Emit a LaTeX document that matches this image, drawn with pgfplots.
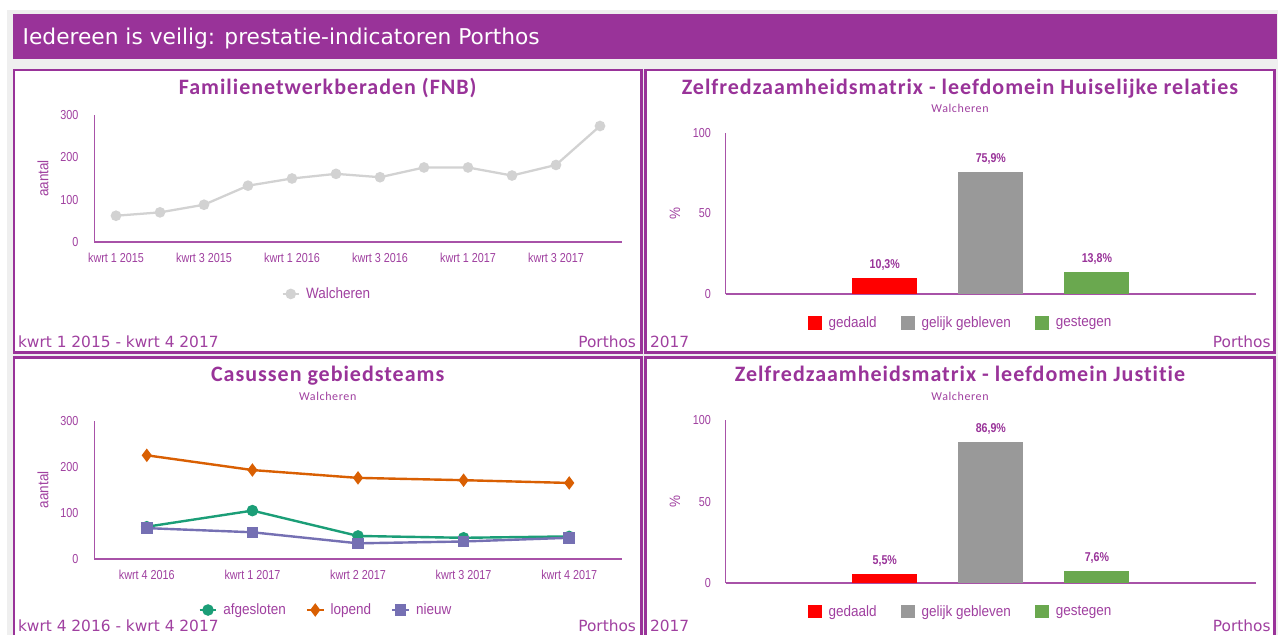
\documentclass[border=0pt]{standalone}
\usepackage{pgfplots}
\pgfplotsset{compat=1.18}
\usepackage{fontspec}
\setmainfont{Liberation Sans}
\newfontfamily\narrow[FakeStretch=0.9]{Liberation Sans}
\newfontfamily\narrowt[FakeStretch=0.83]{Liberation Sans}
\newfontfamily\ttl[LetterSpace=4.5,Ligatures={NoCommon,NoRare}]{Carlito}
\newfontfamily\sub[LetterSpace=5,Ligatures={NoCommon,NoRare}]{Carlito}
\newfontfamily\verd{DejaVu Sans}
\definecolor{pp}{RGB}{153,51,153}
\definecolor{tp}{RGB}{160,64,160}
\definecolor{bgg}{RGB}{239,239,239}
\definecolor{fnbgray}{RGB}{210,210,210}
\definecolor{cgreen}{RGB}{27,158,119}
\definecolor{corange}{RGB}{217,95,2}
\definecolor{cblue}{RGB}{117,112,179}
\definecolor{bred}{RGB}{255,0,0}
\definecolor{bgray}{RGB}{153,153,153}
\definecolor{bgreen}{RGB}{106,168,79}
\newcommand\fs[1]{\fontsize{#1}{#1}\selectfont}

\pgfplotsset{
  dash/.style={
    scale only axis,
    axis lines*=left,
    major tick length=0pt,
    clip=false,
    x axis line style={color=pp!85, line width=1.5pt},
    y axis line style={color=pp!85, line width=0.75pt},
    tick label style={font=\narrowt\fs{9.75pt}, text=tp, inner sep=0pt},
    /pgf/number format/assume math mode=true,
    xticklabel style={anchor=north, yshift=-8.25pt},
    legend style={draw=none, fill=none, font=\narrow\fs{11.25pt}, text=tp,
      legend columns=-1, anchor=center, nodes={inner sep=0pt},
      /tikz/every odd column/.append style={column sep=4.5pt},
      /tikz/every even column/.append style={column sep=15pt}},
    legend image code/.code={\draw[mark repeat=2,mark phase=2,#1] plot coordinates {(0pt,0pt) (6.2pt,0pt) (12.4pt,0pt)};},
  },
  ylab/.style={every axis y label/.style={at={(axis description cs:#1,0.5)}, rotate=90, anchor=center, font=\narrow\fs{11.25pt}, text=tp}},
}
\tikzset{txt/.style={inner sep=0pt, outer sep=0pt}}

\begin{document}
\begin{tikzpicture}[x=0.75pt,y=0.75pt]
\useasboundingbox (0,0) rectangle (1278,635);
\clip (0,0) rectangle (1278,635);
\fill[white] (0,0) rectangle (1278,635);
\fill[bgg] (6.7,0) rectangle (1278,625);
% header
\fill[pp] (13,635-14) rectangle (1277,635-59);
\node[txt, anchor=base west, text=white, font=\verd\fs{16.3pt}] at (22.7,635-45) {Iedereen is veilig: prestatie-indicatoren Porthos};
% panels
\draw[pp, line width=1.875pt, fill=white] (14,635-70) rectangle (641.5,635-352.3);
\draw[pp, line width=1.875pt, fill=white] (645.5,635-70) rectangle (1274.5,635-352.3);
\draw[pp, line width=1.875pt, fill=white] (14,635-357.3) rectangle (641.5,-10);
\draw[pp, line width=1.875pt, fill=white] (645.5,635-357.3) rectangle (1274.5,-10);
% titles
\node[txt, anchor=base, font=\ttl\bfseries\fs{16.5pt}, text=pp] at (327.7,635-94.3) {Familienetwerkberaden (FNB)};
\node[txt, anchor=base, font=\ttl\bfseries\fs{16.5pt}, text=pp] at (960,635-94.3) {Zelfredzaamheidsmatrix - leefdomein Huiselijke relaties};
\node[txt, anchor=base, font=\sub\fs{9pt}, text=tp] at (960,635-112.7) {Walcheren};
\node[txt, anchor=base, font=\ttl\bfseries\fs{16.5pt}, text=pp] at (327.7,635-382) {Casussen gebiedsteams};
\node[txt, anchor=base, font=\sub\fs{9pt}, text=tp] at (327.7,635-400.5) {Walcheren};
\node[txt, anchor=base, font=\ttl\bfseries\fs{16.5pt}, text=pp] at (960,635-382) {Zelfredzaamheidsmatrix - leefdomein Justitie};
\node[txt, anchor=base, font=\sub\fs{9pt}, text=tp] at (960,635-400.5) {Walcheren};
% footers
\node[txt, anchor=base west, font=\verd\fs{11.55pt}, text=tp] at (18,635-347.3) {kwrt 1 2015 - kwrt 4 2017};
\node[txt, anchor=base east, font=\verd\fs{11.55pt}, text=tp] at (636,635-347.3) {Porthos};
\node[txt, anchor=base west, font=\verd\fs{11.55pt}, text=tp] at (650,635-347.3) {2017};
\node[txt, anchor=base east, font=\verd\fs{11.55pt}, text=tp] at (1270.6,635-347.3) {Porthos};
\node[txt, anchor=base west, font=\verd\fs{11.55pt}, text=tp] at (18,635-632) {kwrt 4 2016 - kwrt 4 2017};
\node[txt, anchor=base east, font=\verd\fs{11.55pt}, text=tp] at (636,635-632) {Porthos};
\node[txt, anchor=base west, font=\verd\fs{11.55pt}, text=tp] at (650,635-632) {2017};
\node[txt, anchor=base east, font=\verd\fs{11.55pt}, text=tp] at (1270.6,635-632) {Porthos};

\coordinate (A1) at (94,635-242);
\coordinate (A2) at (725.7,635-294.3);
\coordinate (A3) at (94,635-559);
\coordinate (A4) at (725.7,635-583);

% FNB
\begin{axis}[dash, ylab=-0.0966, at={(A1)}, anchor=south west,
  width=396pt, height=95.25pt,
  xmin=-0.5, xmax=11.5, ymin=0, ymax=300,
  ytick={0,100,200,300}, yticklabel style={anchor=east, xshift=-11.5pt},
  xtick={0,2,4,6,8,10},
  xticklabels={kwrt 1 2015,kwrt 3 2015,kwrt 1 2016,kwrt 3 2016,kwrt 1 2017,kwrt 3 2017},
  ylabel={aantal},
  legend style={at={(axis description cs:0.439,-0.409)}}]
\addplot[fnbgray, line width=1.7pt, mark=*, mark size=3.1pt, mark options={fill=fnbgray, draw=fnbgray}]
  coordinates {(0,62) (1,70) (2,88) (3,133) (4,150) (5,161) (6,153) (7,176) (8,176) (9,157) (10,182) (11,274)};
\addlegendentry{Walcheren}
\end{axis}

% Casussen
\begin{axis}[dash, ylab=-0.0966, at={(A3)}, anchor=south west,
  width=396pt, height=103.7pt,
  xmin=-0.5, xmax=4.5, ymin=0, ymax=300,
  ytick={0,100,200,300}, yticklabel style={anchor=east, xshift=-11.5pt},
  xtick={0,1,2,3,4},
  xticklabels={kwrt 4 2016,kwrt 1 2017,kwrt 2 2017,kwrt 3 2017,kwrt 4 2017},
  ylabel={aantal},
  legend style={at={(axis description cs:0.4375,-0.369)}}]
\addplot[cgreen, line width=1.8pt, mark=*, mark size=3.4pt, mark options={fill=cgreen, draw=cgreen}]
  coordinates {(0,70) (1,105) (2,50) (3,46) (4,49)};
\addlegendentry{afgesloten}
\addplot[corange, line width=1.8pt, mark=diamond*, mark size=3.6pt, mark options={fill=corange, draw=corange}]
  coordinates {(0,225) (1,193) (2,176) (3,171) (4,165)};
\addlegendentry{lopend}
\addplot[cblue, line width=1.8pt, mark=square*, mark size=3.4pt, mark options={fill=cblue, draw=cblue}]
  coordinates {(0,67) (1,58) (2,34) (3,38) (4,46)};
\addlegendentry{nieuw}
\end{axis}

% Bars
\pgfplotsset{
  barax/.style={dash, ylab=-0.0956, anchor=south west, width=397.7pt,
    xmin=-0.5, xmax=4.5, ymin=0, ymax=100, xtick=\empty,
    ytick={0,50,100}, yticklabel style={anchor=east, xshift=-11pt},
    ylabel={\%},
    point meta=explicit symbolic,
    nodes near coords,
    every node near coord/.append style={font=\narrowt\bfseries\fs{9.6pt}, text=pp, inner sep=0pt, anchor=south, yshift=5.5pt},
    legend style={/tikz/every odd column/.append style={column sep=5.25pt},
      /tikz/every even column/.append style={column sep=18pt}}},
  sq/.style={ybar, bar width=48.75pt, bar shift=0pt, fill=#1, draw=none,
    legend image code/.code={\fill[#1] (0pt,-5.1pt) rectangle (10.5pt,5.1pt);}},
}
\begin{axis}[barax, at={(A2)}, height=121.2pt,
  legend style={at={(axis description cs:0.441,-0.176)}}]
\addplot[sq=bred] coordinates {(1,10.3) [10,3\%]};
\addlegendentry{gedaald}
\addplot[sq=bgray] coordinates {(2,75.9) [75,9\%]};
\addlegendentry{gelijk gebleven}
\addplot[sq=bgreen] coordinates {(3,13.8) [13,8\%]};
\addlegendentry{gestegen}
\end{axis}

\begin{axis}[barax, at={(A4)}, height=122pt,
  legend style={at={(axis description cs:0.441,-0.176)}}]
\addplot[sq=bred] coordinates {(1,5.5) [5,5\%]};
\addlegendentry{gedaald}
\addplot[sq=bgray] coordinates {(2,86.9) [86,9\%]};
\addlegendentry{gelijk gebleven}
\addplot[sq=bgreen] coordinates {(3,7.6) [7,6\%]};
\addlegendentry{gestegen}
\end{axis}
\end{tikzpicture}
\end{document}
